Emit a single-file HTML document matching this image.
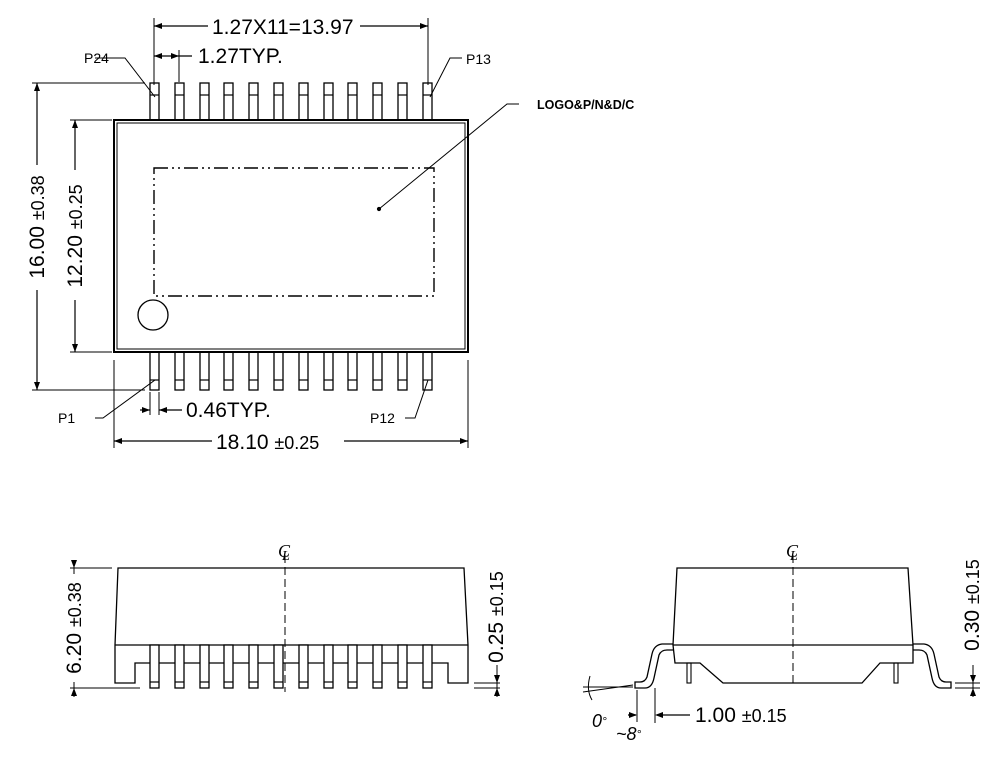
<!DOCTYPE html>
<html><head><meta charset="utf-8"><style>
html,body{margin:0;padding:0;background:#fff;}
svg{display:block;font-family:"Liberation Sans",sans-serif;}
</style></head><body>
<svg width="1005" height="783" viewBox="0 0 1005 783" xmlns="http://www.w3.org/2000/svg">
<defs>
<g id="tp"><rect x="0" y="83" width="9" height="37" fill="#fff" stroke="#000" stroke-width="1.3"/><line x1="0" y1="95" x2="9" y2="95" stroke="#000" stroke-width="1.2"/></g>
<g id="bp"><rect x="0" y="352" width="9" height="38" fill="#fff" stroke="#000" stroke-width="1.3"/><line x1="0" y1="380" x2="9" y2="380" stroke="#000" stroke-width="1.2"/></g>
<g id="sp"><rect x="0" y="645" width="9" height="43" fill="#fff" stroke="#000" stroke-width="1.3"/><line x1="0" y1="682" x2="9" y2="682" stroke="#000" stroke-width="1.2"/></g>
</defs>
<g stroke="#000" fill="none" stroke-width="1.2">
<use href="#tp" x="150"/><use href="#tp" x="175"/><use href="#tp" x="200"/><use href="#tp" x="224"/><use href="#tp" x="249"/><use href="#tp" x="274"/><use href="#tp" x="299"/><use href="#tp" x="324"/><use href="#tp" x="348"/><use href="#tp" x="373"/><use href="#tp" x="398"/><use href="#tp" x="423"/>
<use href="#bp" x="150"/><use href="#bp" x="175"/><use href="#bp" x="200"/><use href="#bp" x="224"/><use href="#bp" x="249"/><use href="#bp" x="274"/><use href="#bp" x="299"/><use href="#bp" x="324"/><use href="#bp" x="348"/><use href="#bp" x="373"/><use href="#bp" x="398"/><use href="#bp" x="423"/>
<rect x="114" y="120" width="354" height="232" stroke-width="2" fill="#fff"/>
<rect x="117" y="123" width="348" height="226" stroke-width="1"/>
<rect x="154" y="168" width="280" height="128" stroke-width="1.4" stroke-dasharray="14,4,2,4,2,4"/>
<circle cx="153" cy="315" r="15" stroke-width="1.3"/>
<polyline points="379,209 507,104 519,104" stroke-width="1"/>
<circle cx="379" cy="209" r="1.5" fill="#000"/>
<line x1="154" y1="18" x2="154" y2="85" stroke-width="1"/>
<line x1="428" y1="18" x2="428" y2="85" stroke-width="1"/>
<line x1="154" y1="26" x2="208" y2="26"/><line x1="360" y1="26" x2="428" y2="26"/>
<line x1="179" y1="50" x2="179" y2="82" stroke-width="1"/>
<line x1="154" y1="56" x2="192" y2="56"/>
<polyline points="95,58 125,58 155,97" stroke-width="1"/>
<polyline points="462,58 450,58 430,97" stroke-width="1"/>
<line x1="37" y1="83" x2="37" y2="165"/><line x1="37" y1="290" x2="37" y2="390"/>
<line x1="32" y1="83" x2="145" y2="83" stroke-width="1"/><line x1="32" y1="390" x2="145" y2="390" stroke-width="1"/>
<line x1="75" y1="120" x2="75" y2="170"/><line x1="75" y1="300" x2="75" y2="352"/>
<line x1="70" y1="120" x2="112" y2="120" stroke-width="1"/><line x1="70" y1="352" x2="112" y2="352" stroke-width="1"/>
<polyline points="95,418 103,418 155,380" stroke-width="1"/>
<polyline points="405,418 415,418 428,380" stroke-width="1"/>
<line x1="140" y1="410" x2="150" y2="410"/><line x1="159" y1="410" x2="182" y2="410"/>
<line x1="150" y1="392" x2="150" y2="415" stroke-width="1"/><line x1="159" y1="392" x2="159" y2="415" stroke-width="1"/>
<line x1="114" y1="360" x2="114" y2="448" stroke-width="1"/><line x1="468" y1="360" x2="468" y2="448" stroke-width="1"/>
<line x1="114" y1="441" x2="212" y2="441"/><line x1="344" y1="441" x2="468" y2="441"/>
</g>
<g fill="#000">
<polygon points="154,26 162,23 162,29"/><polygon points="428,26 420,23 420,29"/>
<polygon points="154,56 162,53 162,59"/><polygon points="179,56 171,53 171,59"/>
<polygon points="37,83 34,91 40,91"/><polygon points="37,390 34,382 40,382"/>
<polygon points="75,120 72,128 78,128"/><polygon points="75,352 72,344 78,344"/>
<polygon points="150,410 142,407 142,413"/><polygon points="159,410 167,407 167,413"/>
<polygon points="114,441 122,438 122,444"/><polygon points="468,441 460,438 460,444"/>
</g>
<g font-size="21" fill="#000">
<text x="212" y="34">1.27X11=13.97</text>
<text x="198" y="63">1.27TYP.</text>
<text x="84" y="63" font-size="14">P24</text>
<text x="466" y="64" font-size="14">P13</text>
<text x="537" y="109" font-size="12.5" font-weight="bold">LOGO&amp;P/N&amp;D/C</text>
<text x="58" y="423" font-size="14">P1</text>
<text x="370" y="423" font-size="14">P12</text>
<text x="186" y="417">0.46TYP.</text>
<text x="216" y="449">18.10 <tspan font-size="18">±0.25</tspan></text>
<text transform="translate(44,227) rotate(-90)" text-anchor="middle">16.00 <tspan font-size="18">±0.38</tspan></text>
<text transform="translate(82,236) rotate(-90)" text-anchor="middle">12.20 <tspan font-size="18">±0.25</tspan></text>
</g>
<g stroke="#000" fill="none" stroke-width="1.3">
<path d="M118,568 L464,568 L468,645 L468,683 L448,683 L448,663 L135,663 L135,683 L115,683 L115,645 Z" fill="#fff"/>
<line x1="115" y1="645" x2="468" y2="645"/>
<use href="#sp" x="150"/><use href="#sp" x="175"/><use href="#sp" x="200"/><use href="#sp" x="224"/><use href="#sp" x="249"/><use href="#sp" x="274"/><use href="#sp" x="299"/><use href="#sp" x="324"/><use href="#sp" x="348"/><use href="#sp" x="373"/><use href="#sp" x="398"/><use href="#sp" x="423"/>
<line x1="285" y1="555" x2="285" y2="692" stroke-dasharray="8,4" stroke-width="1"/>
<line x1="74" y1="560" x2="74" y2="697" stroke-width="1"/>
<line x1="70" y1="568" x2="112" y2="568" stroke-width="1"/><line x1="70" y1="688" x2="140" y2="688" stroke-width="1"/>
<line x1="497" y1="665" x2="497" y2="697" stroke-width="1"/>
<line x1="474" y1="683" x2="500" y2="683" stroke-width="1"/><line x1="474" y1="688" x2="500" y2="688" stroke-width="1"/>
</g>
<rect x="64" y="574" width="20" height="108" fill="#fff"/>
<g font-size="21" fill="#000">
<text transform="translate(81,628) rotate(-90)" text-anchor="middle">6.20 <tspan font-size="18">±0.38</tspan></text>
<text transform="translate(503,617) rotate(-90)" text-anchor="middle">0.25 <tspan font-size="18">±0.15</tspan></text>
<text x="278" y="557" font-style="italic" font-family="Liberation Serif, serif" font-size="18">C</text><text x="282" y="560" font-style="italic" font-family="Liberation Serif, serif" font-size="14">L</text>
</g>
<g stroke="#000" fill="none" stroke-width="1.3">
<path d="M677,568 L908,568 L913,645 L913,663 L880,663 L862,683 L723,683 L700,663 L675,663 L673,645 Z" fill="#fff"/>
<line x1="673" y1="645" x2="913" y2="645"/>
<path d="M673,644 L662,644 Q654,645 652,654 L647,677 Q645,682 640,682 L635,682 L635,688 L645,688 Q652,688 654,678 L659,655 Q661,650 667,650 L673,650"/>
<path d="M913,644 L924,644 Q932,645 934,654 L939,677 Q941,682 946,682 L951,682 L951,688 L941,688 Q934,688 932,678 L927,655 Q925,650 919,650 L913,650"/>
<rect x="687" y="663" width="4" height="20" stroke-width="1.1"/><rect x="894" y="663" width="4" height="20" stroke-width="1.1"/>
<line x1="793" y1="555" x2="793" y2="683" stroke-dasharray="8,4" stroke-width="1"/>
<line x1="973" y1="665" x2="973" y2="697" stroke-width="1"/>
<line x1="955" y1="683" x2="980" y2="683" stroke-width="1"/><line x1="955" y1="688" x2="980" y2="688" stroke-width="1"/>
<line x1="637" y1="690" x2="637" y2="722" stroke-width="1"/><line x1="655" y1="688" x2="655" y2="723" stroke-width="1"/>
<line x1="657" y1="715" x2="690" y2="715"/><line x1="628" y1="715" x2="636" y2="715"/>
<line x1="583" y1="687" x2="633" y2="687" stroke-width="1"/><line x1="583" y1="692" x2="633" y2="685" stroke-width="1"/>
<path d="M590,676 Q586,690 592,700" stroke-width="1"/>
</g>
<g fill="#000">
<polygon points="655,715 663,712 663,718"/><polygon points="637,715 629,712 629,718"/>
<polygon points="74,568 71,560 77,560"/><polygon points="74,688 71,696 77,696"/>
<polygon points="497,688 494,696 500,696"/><polygon points="497,683 494,675 500,675"/>
<polygon points="973,688 970,696 976,696"/><polygon points="973,683 970,675 976,675"/>
</g>
<g font-size="21" fill="#000">
<text x="695" y="722">1.00 <tspan font-size="18">±0.15</tspan></text>
<text transform="translate(979,605) rotate(-90)" text-anchor="middle">0.30 <tspan font-size="18">±0.15</tspan></text>
<text x="592" y="727" font-style="italic" font-size="18">0<tspan font-size="12" dy="-2">°</tspan></text>
<text x="616" y="740" font-style="italic" font-size="18">~8<tspan font-size="12" dy="-2">°</tspan></text>
<text x="786" y="557" font-style="italic" font-family="Liberation Serif, serif" font-size="18">C</text><text x="790" y="560" font-style="italic" font-family="Liberation Serif, serif" font-size="14">L</text>
</g>
</svg>
</body></html>
